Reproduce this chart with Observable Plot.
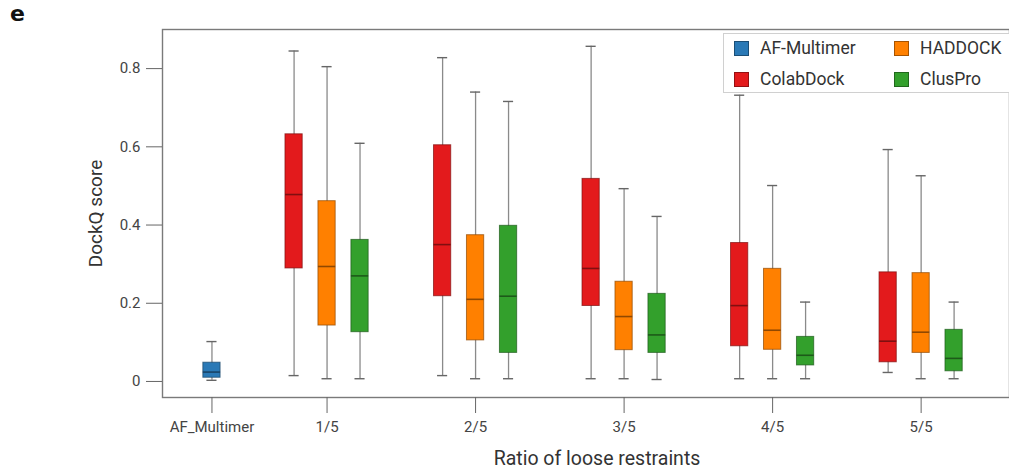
<!DOCTYPE html>
<html>
<head>
<meta charset="utf-8">
<script src="https://cdn.jsdelivr.net/npm/d3@7"></script>
<script src="https://cdn.jsdelivr.net/npm/@observablehq/plot@0.6"></script>
<style>
  html, body { margin: 0; padding: 0; background: #fff; }
  #wrap { position: relative; width: 1009px; height: 471px; font-family: Roboto, "Liberation Sans", sans-serif; }
  #tag { position: absolute; left: 10px; top: 1px; font: bold 22px "DejaVu Sans", sans-serif; color: #111; }
  #legend { position: absolute; left: 723px; top: 33px; width: 300px; height: 58px; border: 1px solid #d0d0d0; background: #fff; }
  .item { position: absolute; display: flex; align-items: center; font-size: 17.5px; color: #333; }
  .sw { width: 15px; height: 15px; margin-right: 11px; box-sizing: border-box; border: 1px solid rgba(0,0,0,0.35); }
</style>
</head>
<body>
<div id="wrap"></div>
<script>
// ---- data (stats per box: [min, q1, median, q3, max]) ----
const groups = ["AF_Multimer", "1/5", "2/5", "3/5", "4/5", "5/5"];
const ratios = ["1/5", "2/5", "3/5", "4/5", "5/5"];
const methods = ["AF-Multimer", "ColabDock", "HADDOCK", "ClusPro"];
const colors = ["#2a79b6", "#e31a1c", "#ff8000", "#33a02c"];

const afMultimer = [0.003, 0.0095, 0.024, 0.048, 0.102];
const colabDock = [
  [0.015, 0.289, 0.478, 0.632, 0.845],
  [0.015, 0.218, 0.350, 0.604, 0.828],
  [0.007, 0.193, 0.289, 0.518, 0.857],
  [0.007, 0.090, 0.194, 0.354, 0.732],
  [0.023, 0.049, 0.103, 0.279, 0.593]
];
const haddock = [
  [0.007, 0.143, 0.294, 0.461, 0.805],
  [0.007, 0.105, 0.210, 0.374, 0.740],
  [0.007, 0.080, 0.166, 0.255, 0.493],
  [0.007, 0.081, 0.131, 0.288, 0.501],
  [0.007, 0.073, 0.126, 0.277, 0.526]
];
const clusPro = [
  [0.007, 0.126, 0.270, 0.362, 0.609],
  [0.007, 0.073, 0.218, 0.398, 0.716],
  [0.005, 0.073, 0.119, 0.224, 0.422],
  [0.007, 0.041, 0.067, 0.114, 0.203],
  [0.007, 0.026, 0.059, 0.132, 0.203]
];
const yTicks = [0, 0.2, 0.4, 0.6, 0.8];
const yTickLabels = ["0", "0.2", "0.4", "0.6", "0.8"];
const xTitle = "Ratio of loose restraints";
const yTitle = "DockQ score";

// ---- layout helpers ----
const groupCenter = new Map([["AF_Multimer", 0.225], ["1/5", 1], ["2/5", 2], ["3/5", 3], ["4/5", 4], ["5/5", 5]]);
const methodOffset = new Map([["AF-Multimer", 0], ["ColabDock", -0.222], ["HADDOCK", 0], ["ClusPro", 0.222]]);
const boxHalf = 0.058, capHalf = 0.034;
const colorOf = new Map(methods.map((m, i) => [m, colors[i]]));

const rows = [];
function add(group, method, s) {
  const pos = groupCenter.get(group) + methodOffset.get(method);
  rows.push({group, method, min: s[0], q1: s[1], median: s[2], q3: s[3], max: s[4], pos,
             fill: colorOf.get(method), dark: d3.color(colorOf.get(method)).darker(1.6).formatHex()});
}
add("AF_Multimer", "AF-Multimer", afMultimer);
ratios.forEach((r, i) => {
  add(r, "ColabDock", colabDock[i]);
  add(r, "HADDOCK", haddock[i]);
  add(r, "ClusPro", clusPro[i]);
});

const chart = Plot.plot({
  width: 1009,
  height: 471,
  marginLeft: 162,
  marginTop: 29,
  marginBottom: 74,
  marginRight: 0,
  style: {fontFamily: "Roboto, sans-serif", fontSize: "15px", color: "#333", background: "#fff", overflow: "visible"},
  x: {type: "linear", domain: [-0.108, 5.595]},
  y: {domain: [-0.041, 0.9]},
  marks: [
    Plot.ruleX(rows, {x: "pos", y1: "min", y2: "max", stroke: "#8a8a8a", strokeWidth: 1.3}),
    Plot.ruleY(rows, {y: "min", x1: d => d.pos - capHalf, x2: d => d.pos + capHalf, stroke: "#666", strokeWidth: 1.4}),
    Plot.ruleY(rows, {y: "max", x1: d => d.pos - capHalf, x2: d => d.pos + capHalf, stroke: "#666", strokeWidth: 1.4}),
    Plot.rect(rows, {x1: d => d.pos - boxHalf, x2: d => d.pos + boxHalf, y1: "q1", y2: "q3", fill: "fill", stroke: "dark", strokeWidth: 1, strokeOpacity: 0.7}),
    Plot.ruleY(rows, {y: "median", x1: d => d.pos - boxHalf, x2: d => d.pos + boxHalf, stroke: "dark", strokeWidth: 1.6}),
    Plot.frame({stroke: "#7a7a7a", strokeWidth: 1.4}),
    Plot.axisY({ticks: yTicks, tickFormat: v => yTickLabels[yTicks.indexOf(v)], tickSize: 16, tickPadding: 6, stroke: "#666", fontSize: 15, fill: "#444", label: null}),
    Plot.axisX({ticks: groups.map(g => groupCenter.get(g)), tickFormat: v => groups.find(g => groupCenter.get(g) === v),
                tickSize: 16, tickPadding: 8, stroke: "#666", fontSize: 15, fill: "#444", label: null}),
    Plot.text([xTitle], {text: d => d, frameAnchor: "bottom", textAnchor: "middle", lineAnchor: "middle", dx: 11, dy: 61, fontSize: 19.5, fill: "#333"}),
    Plot.text([yTitle], {text: d => d, frameAnchor: "left", textAnchor: "middle", lineAnchor: "middle", dx: -67, rotate: -90, fontSize: 19, fill: "#333"})
  ]
});

const wrap = document.getElementById("wrap");
wrap.appendChild(chart);

const tag = document.createElement("div");
tag.id = "tag"; tag.textContent = "e";
wrap.appendChild(tag);

const legend = document.createElement("div");
legend.id = "legend";
const legendOrder = [["AF-Multimer", 10, 4], ["HADDOCK", 170, 4], ["ColabDock", 10, 35], ["ClusPro", 170, 35]];
legendOrder.forEach(([m, lx, ly]) => {
  const it = document.createElement("div");
  it.className = "item";
  it.style.left = lx + "px"; it.style.top = ly + "px";
  const sw = document.createElement("span");
  sw.className = "sw"; sw.style.background = colorOf.get(m);
  const t = document.createElement("span");
  t.textContent = m;
  it.appendChild(sw); it.appendChild(t);
  legend.appendChild(it);
});
wrap.appendChild(legend);
</script>
</body>
</html>
